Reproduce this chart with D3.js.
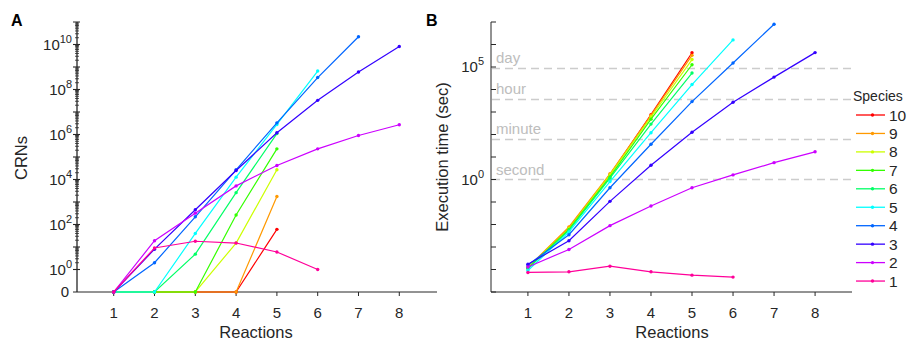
<!DOCTYPE html>
<html><head><meta charset="utf-8">
<script src="https://cdn.jsdelivr.net/npm/d3@7"></script>
<style>
body{margin:0;background:#fff;}
svg text{font-family:"Liberation Sans",Arial,Helvetica,sans-serif;}
</style>
</head><body>
<svg id="c" width="911" height="341"></svg>
<script>
// ---------- data ----------
const reactions = [1, 2, 3, 4, 5, 6, 7, 8];
const speciesLabels = ["10", "9", "8", "7", "6", "5", "4", "3", "2", "1"];
const speciesColors = ["#ff0000", "#ff9900", "#ccff00", "#33ff00", "#00ff66", "#00ffff", "#0066ff", "#3300ff", "#cc00ff", "#ff0099"];

// Panel A: number of CRNs (0 plotted at the bottom "0" tick)
const crn10 = [0, 0, 0, 0, 61];
const crn9  = [0, 0, 0, 0, 1750];
const crn8  = [0, 0, 0, 15, 27000];
const crn7  = [0, 0, 0, 265, 230000];
const crn6  = [0, 0, 4.8, 2600, 1100000];
const crn5  = [0, 0, 40, 12700, 2800000, 660000000];
const crn4  = [0, 2, 220, 27000, 3300000, 340000000, 22000000000];
const crn3  = [0, 8, 450, 25000, 1200000, 33000000, 600000000, 8100000000];
const crn2  = [0, 19, 320, 5200, 42000, 230000, 900000, 2700000];
const crn1  = [0, 9, 18, 15, 6, 1];

// Panel B: execution time (sec)
const time10 = [1.2e-4, 7.1e-3, 1.65, 760, 430000];
const time9  = [1.25e-4, 7.8e-3, 1.8, 710, 330000];
const time8  = [1.2e-4, 6.6e-3, 1.6, 600, 214000];
const time7  = [1.15e-4, 6.0e-3, 1.3, 480, 126000];
const time6  = [1.1e-4, 5.5e-3, 1.15, 290, 54000];
const time5  = [9.0e-5, 4.7e-3, 0.81, 120, 16600, 1.6e6];
const time4  = [1.6e-4, 3.5e-3, 0.43, 37, 2900, 151000, 7.9e6];
const time3  = [1.7e-4, 1.9e-3, 0.107, 4.3, 126, 2700, 35500, 436000];
const time2  = [1.3e-4, 7.8e-4, 8.9e-3, 0.066, 0.43, 1.6, 5.6, 17];
const time1  = [7.4e-5, 7.9e-5, 1.4e-4, 7.9e-5, 5.6e-5, 4.6e-5];

const crnSeries = [crn10, crn9, crn8, crn7, crn6, crn5, crn4, crn3, crn2, crn1];
const timeSeries = [time10, time9, time8, time7, time6, time5, time4, time3, time2, time1];

const crnTickExps = [0, 2, 4, 6, 8, 10];
const timeTickExps = [0, 5];
const refLines = [{label: "day", v: 86400}, {label: "hour", v: 3600}, {label: "minute", v: 60}, {label: "second", v: 1}];

// ---------- drawing ----------
const svg = d3.select("#c");
const TXT = "#262626";
const AX = "#262626";

function expLabel(g, x, y, exp, anchor) {
  const t = g.append("text").attr("x", x).attr("y", y).attr("text-anchor", anchor || "end")
    .attr("fill", TXT).style("font-size", "15px");
  t.append("tspan").text("10");
  t.append("tspan").attr("dy", -7).style("font-size", "11px").text(exp);
}

function xAxis(g, x, y0, x0, x1) {
  g.append("line").attr("x1", x0).attr("x2", x1).attr("y1", y0).attr("y2", y0).attr("stroke", AX).attr("stroke-width", 1);
  reactions.forEach(r => {
    g.append("line").attr("x1", x(r)).attr("x2", x(r)).attr("y1", y0).attr("y2", y0 + 4).attr("stroke", AX);
    g.append("text").attr("x", x(r)).attr("y", y0 + 26).attr("text-anchor", "middle")
      .attr("fill", TXT).style("font-size", "15px").text(r);
  });
}

function drawSeries(g, x, y, series, yFn) {
  series.forEach((vals, i) => {
    const pts = vals.map((v, j) => [x(reactions[j]), yFn(v)]);
    g.append("path").attr("d", d3.line()(pts)).attr("fill", "none")
      .attr("stroke", speciesColors[i]).attr("stroke-width", 1.2);
    pts.forEach(p => g.append("circle").attr("cx", p[0]).attr("cy", p[1]).attr("r", 1.7).attr("fill", speciesColors[i]));
  });
}

// ----- Panel A -----
{
  const g = svg.append("g");
  const x = d3.scaleLinear().domain([0.1, 8.9]).range([77, 436]);
  const y = d3.scaleLog().domain([0.1, 1e11]).range([292, 22]);
  const yFn = v => v === 0 ? y(0.1) : y(v);
  // y axis
  g.append("line").attr("x1", 77).attr("x2", 77).attr("y1", 22).attr("y2", 292).attr("stroke", AX).attr("stroke-width", 1.3);
  for (let e = 0; e < 11; e++) {
    for (let m = 1; m < 10; m++) {
      const yy = y(m * Math.pow(10, e));
      if (m === 1) {
        g.append("line").attr("x1", 73).attr("x2", 80).attr("y1", yy).attr("y2", yy).attr("stroke", AX).attr("stroke-width", 1.1);
      } else {
        g.append("line").attr("x1", 75).attr("x2", 79).attr("y1", yy).attr("y2", yy).attr("stroke", AX).attr("stroke-width", 0.8);
      }
    }
  }
  g.append("line").attr("x1", 73).attr("x2", 80).attr("y1", y(1e11)).attr("y2", y(1e11)).attr("stroke", AX).attr("stroke-width", 1);
  g.append("line").attr("x1", 73).attr("x2", 77).attr("y1", y(0.1)).attr("y2", y(0.1)).attr("stroke", AX);
  g.append("text").attr("x", 69).attr("y", y(0.1) + 5).attr("text-anchor", "end").attr("fill", TXT).style("font-size", "15px").text("0");
  crnTickExps.forEach(e => expLabel(g, 72, y(Math.pow(10, e)) + 5, e));
  xAxis(g, x, 292, 77, 437);
  drawSeries(g, x, y, crnSeries, yFn);
  g.append("text").attr("transform", "translate(27,158) rotate(-90)").attr("text-anchor", "middle")
    .attr("fill", TXT).style("font-size", "16.5px").text("CRNs");
  g.append("text").attr("x", 256).attr("y", 338).attr("text-anchor", "middle")
    .attr("fill", TXT).style("font-size", "16.5px").text("Reactions");
  g.append("text").attr("x", 11).attr("y", 26).attr("fill", "#000").style("font-size", "16px").style("font-weight", "bold").text("A");
}

// ----- Panel B -----
{
  const g = svg.append("g");
  const x = d3.scaleLinear().domain([0.1, 8.9]).range([491, 852]);
  const y = d3.scaleLog().domain([1e-5, 1e7]).range([292, 22]);
  // reference lines
  refLines.forEach(r => {
    g.append("line").attr("x1", 492).attr("x2", 852).attr("y1", y(r.v)).attr("y2", y(r.v))
      .attr("stroke", "#cccccc").attr("stroke-width", 1.6).attr("stroke-dasharray", "8,5");
    g.append("text").attr("x", 496).attr("y", y(r.v) - 5).attr("fill", "#bdbdbd").style("font-size", "15px").text(r.label);
  });
  g.append("line").attr("x1", 491).attr("x2", 491).attr("y1", 22).attr("y2", 292).attr("stroke", AX);
  for (let e = -5; e <= 7; e++) {
    const yy = y(Math.pow(10, e));
    g.append("line").attr("x1", 491).attr("x2", 496).attr("y1", yy).attr("y2", yy).attr("stroke", AX);
  }
  timeTickExps.forEach(e => expLabel(g, 484, y(Math.pow(10, e)) + 5, e));
  xAxis(g, x, 292, 491, 852);
  drawSeries(g, x, y, timeSeries, v => y(v));
  g.append("text").attr("transform", "translate(448,157) rotate(-90)").attr("text-anchor", "middle")
    .attr("fill", TXT).style("font-size", "16.5px").text("Execution time (sec)");
  g.append("text").attr("x", 672).attr("y", 338).attr("text-anchor", "middle")
    .attr("fill", TXT).style("font-size", "16.5px").text("Reactions");
  g.append("text").attr("x", 426).attr("y", 26).attr("fill", "#000").style("font-size", "16px").style("font-weight", "bold").text("B");

  // legend
  const lg = svg.append("g");
  lg.append("text").attr("x", 853).attr("y", 101).attr("fill", TXT).style("font-size", "14px").text("Species");
  speciesLabels.forEach((s, i) => {
    const yy = 115 + i * 18.45;
    lg.append("line").attr("x1", 856).attr("x2", 885).attr("y1", yy).attr("y2", yy)
      .attr("stroke", speciesColors[i]).attr("stroke-width", 1.3);
    lg.append("circle").attr("cx", 872.5).attr("cy", yy).attr("r", 1.7).attr("fill", speciesColors[i]);
    lg.append("text").attr("x", 889).attr("y", yy + 5.5).attr("fill", TXT).style("font-size", "15.5px").text(s);
  });
}
</script>
</body></html>
